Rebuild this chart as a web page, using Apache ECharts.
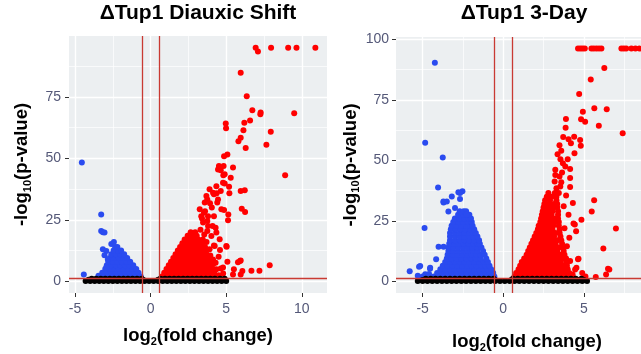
<!DOCTYPE html>
<html>
<head>
<meta charset="utf-8">
<script src="https://cdn.jsdelivr.net/npm/echarts@6.0.0/dist/echarts.min.js"></script>
<style>
  html, body { margin: 0; padding: 0; background: #fff; }
  #chart { width: 641px; height: 354px; }
</style>
</head>
<body>
<div id="chart"></div>
<script>
// volcano plots, ΔTup1 diauxic shift / 3-day
const lfcCut = 0.585;   // |log2 FC| threshold
const pCut = 1.3;       // -log10(0.05)

const xTicksLeft = [-5, 0, 5, 10];
const xMinorLeft = [-2.5, 2.5, 7.5];
const yTicksLeft = [0, 25, 50, 75];
const yMinorLeft = [12.5, 37.5, 62.5, 87.5];

const xTicksRight = [-5, 0, 5];
const xMinorRight = [-2.5, 2.5, 7.5];
const yTicksRight = [0, 25, 50, 75, 100];
const yMinorRight = [12.5, 37.5, 62.5, 87.5];

// dense parts of the clouds, one row per y level: [y, [x, x, ...]]
const leftBlackRows = [
  [0.15, [-4.3,-4.0,-3.7,-3.4,-3.1,-2.8,-2.5,-2.2,-1.9,-1.6,-1.3,-1.0,-0.7,-0.4,-0.1,0.2,0.5,0.8,1.1,1.4,1.7,2.0,2.3,2.6,2.9,3.2,3.5,3.8,4.1,4.4,4.7,5.0]],
  [0.6,  [-4.1,-3.8,-3.5,-3.2,-2.9,-2.6,-2.3,-2.0,-1.7,-1.4,-1.1,-0.8,-0.5,0.5,0.8,1.1,1.4,1.7,2.0,2.3,2.6,2.9,3.2,3.5,3.8,4.1,4.4,4.75]],
  [1.05, [-3.9,-3.6,-3.3,-3.0,-2.7,-2.4,-2.1,-1.8,-1.5,-1.2,-0.9,-0.6,0.65,0.95,1.25,1.55,1.85,2.15,2.45,2.75,3.05,3.35,3.65,3.95,4.25,4.6,4.9]]
];
const leftBlueRows = [
  [2,    [-3.3,-3.0,-2.7,-2.4,-2.1,-1.8,-1.5,-1.2,-0.9,-0.65]],
  [3.5,  [-3.2,-2.9,-2.6,-2.3,-2.0,-1.7,-1.4,-1.1,-0.8]],
  [5,    [-3.0,-2.7,-2.4,-2.1,-1.8,-1.5,-1.2,-0.95]],
  [6.5,  [-2.9,-2.6,-2.3,-2.0,-1.7,-1.4,-1.15]],
  [8,    [-2.8,-2.5,-2.2,-1.9,-1.6,-1.35]],
  [9.5,  [-2.7,-2.4,-2.1,-1.8,-1.55]],
  [11,   [-2.6,-2.3,-2.0,-1.75]],
  [12.5, [-2.45,-2.15,-1.95]],
  [14,   [-2.35,-2.2]]
];
const leftBlueSpots = [
  [-4.55,48.3],[-3.27,27.2],[-3.27,20.5],[-3.16,20.0],[-3.05,19.8],[-2.43,16.0],[-2.6,15.2],
  [-3.16,13.0],[-2.93,12.3],[-3.05,10.6],[-2.83,8.9],[-2.93,5.6],[-4.42,2.8],[-3.45,2.3]
];
const leftRedRows = [
  [2,    [0.75,1.05,1.35,1.65,1.95,2.25,2.55,2.85,3.15,3.45,3.75,4.05,4.35]],
  [3.5,  [0.9,1.2,1.5,1.8,2.1,2.4,2.7,3.0,3.3,3.6,3.9,4.2]],
  [5,    [1.05,1.35,1.65,1.95,2.25,2.55,2.85,3.15,3.45,3.75,4.0]],
  [6.5,  [1.2,1.5,1.8,2.1,2.4,2.7,3.0,3.3,3.6,3.9]],
  [8,    [1.35,1.65,1.95,2.25,2.55,2.85,3.15,3.45,3.75]],
  [9.5,  [1.5,1.8,2.1,2.4,2.7,3.0,3.3,3.6,3.8]],
  [11,   [1.65,1.95,2.25,2.55,2.85,3.15,3.45,3.7]],
  [12.5, [1.8,2.1,2.4,2.7,3.0,3.3,3.6]],
  [14,   [1.95,2.25,2.55,2.85,3.15,3.45,3.6]],
  [15.5, [2.1,2.4,2.7,3.0,3.3,3.4]],
  [17,   [2.25,2.55,2.85,3.15]],
  [18.5, [2.45,2.75,3.05]],
  [20,   [2.65,2.95]]
];
const leftRedSpots = [
  [6.95,95],[7.1,93.4],[7.97,95],[9.1,95],[9.65,95],[10.9,95],
  [5.96,84.8],[6.36,75.3],[6.73,69.6],[7.28,68.6],[7.26,67.9],[9.5,68.3],[6.58,65.4],[6.2,64.5],
  [4.97,64.2],[4.99,62.2],[6.14,61.4],[7.95,60.8],[5.96,58.4],[5.81,57],[7.66,55.5],[6.29,54.2],
  [5.08,51.6],[4.86,50.9],[5.45,46.3],[4.52,46.9],[4.64,45.2],[4.81,43.1],[5.3,42.1],[8.9,43.1],
  [4.9,39.8],[5.19,38.5],[4.37,35.8],[4.64,36.7],[4.19,35.4],[5.21,35.8],[5.96,36.7],[6.23,37],
  [3.75,33.3],[3.93,31.7],[4.41,32],[6.03,29.5],[6.25,28.2],[4.86,29],[5.14,27.2],[5.12,24.8],
  [3.53,27.9],[4.19,26.5],[4.3,21.8],[3.75,24.5],[5.03,14.1],[4.59,12.7],[4.19,14.6],
  [5.96,8.5],[5.78,7.8],[5.08,8],[7.88,6.5],[7.2,4.3],[6.67,4.3],[6.07,4.2],[5.96,2.8],[5.45,2.8],
  [4.64,5.2],[4.19,4.6],[3.25,29.3],[3.35,26.5],[3.47,23.9],[3.58,32],[3.69,34.7],[3.9,37.4],
  [4.13,36],[4.35,38.7],[4.46,33.3],[4.68,29.3],[4.79,40.1],[4.9,43.5],[4.83,46.9],[4.46,45.5],
  [3.8,22.5],[4.02,18.4],[4.35,19.8],[4.57,17.1],[3.9,13],[4.24,14.4],[5.01,14.4],[4.13,8.9],
  [4.79,5.6],[4.35,4.9],[4.13,6.9],[5.51,4.9],[5.92,8.3],[3.3,21],[3.55,19],[3.7,16],[3.95,10.5],
  [4.5,10],[4.0,3.0],[3.4,25.5],[3.6,28.5],[3.8,26.5],[4.05,30],[3.45,17],[3.75,20.5],[4.1,22.5],
  [3.6,12.5],[3.85,8],[4.3,7.5],[3.7,5.5],[4.5,2.5],[4.8,3.2]
];

const rightBlackRows = [
  [0.15, [-5.3,-5.0,-4.7,-4.4,-4.1,-3.8,-3.5,-3.2,-2.9,-2.6,-2.3,-2.0,-1.7,-1.4,-1.1,-0.8,-0.5,-0.2,0.1,0.4,0.7,1.0,1.3,1.6,1.9,2.2,2.5,2.8,3.1,3.4,3.7,4.0,4.3,4.6,4.9,5.2]],
  [0.6,  [-5.0,-4.7,-4.4,-4.1,-3.8,-3.5,-3.2,-2.9,-2.6,-2.3,-2.0,-1.7,-1.4,-1.1,-0.8,-0.5,0.5,0.8,1.1,1.4,1.7,2.0,2.3,2.6,2.9,3.2,3.5,3.8,4.1,4.4,4.7,5.0]],
  [1.05, [-4.8,-4.5,-4.2,-3.9,-3.6,-3.3,-3.0,-2.7,-2.4,-2.1,-1.8,-1.5,-1.2,-0.9,-0.6,0.6,0.9,1.2,1.5,1.8,2.1,2.4,2.7,3.0,3.3,3.6,3.9,4.2,4.5,4.85]]
];
const rightBlueRows = [
  [2,    [-4.3,-4.0,-3.7,-3.4,-3.1,-2.8,-2.5,-2.2,-1.9,-1.6,-1.3,-1.0,-0.75,-0.55]],
  [3.5,  [-4.1,-3.8,-3.5,-3.2,-2.9,-2.6,-2.3,-2.0,-1.7,-1.4,-1.1,-0.85,-0.62]],
  [5,    [-3.9,-3.6,-3.3,-3.0,-2.7,-2.4,-2.1,-1.8,-1.5,-1.2,-0.95,-0.75]],
  [6.5,  [-3.75,-3.45,-3.15,-2.85,-2.55,-2.25,-1.95,-1.65,-1.35,-1.1,-0.85]],
  [8,    [-3.6,-3.3,-3.0,-2.7,-2.4,-2.1,-1.8,-1.5,-1.2,-0.95]],
  [9.5,  [-3.5,-3.2,-2.9,-2.6,-2.3,-2.0,-1.7,-1.4,-1.05]],
  [11,   [-3.45,-3.15,-2.85,-2.55,-2.25,-1.95,-1.65,-1.4,-1.15]],
  [12.5, [-3.4,-3.1,-2.8,-2.5,-2.2,-1.9,-1.6,-1.25]],
  [14,   [-3.4,-3.1,-2.8,-2.5,-2.2,-1.9,-1.6,-1.35]],
  [15.5, [-3.35,-3.05,-2.75,-2.45,-2.15,-1.85,-1.6,-1.45]],
  [17,   [-3.3,-3.0,-2.7,-2.4,-2.1,-1.8,-1.5]],
  [18.5, [-3.3,-3.0,-2.7,-2.4,-2.1,-1.85,-1.6]],
  [20,   [-3.3,-3.0,-2.7,-2.4,-2.1,-1.85,-1.7]],
  [21.5, [-3.25,-2.95,-2.65,-2.35,-2.05,-1.8]],
  [23,   [-3.2,-2.9,-2.6,-2.3,-2.05,-1.9]],
  [24.5, [-3.1,-2.8,-2.5,-2.2,-1.95]],
  [26,   [-3.0,-2.7,-2.4,-2.15,-2.0]],
  [27.5, [-2.8,-2.5,-2.25,-2.1]],
  [29,   [-2.7,-2.45,-2.3]]
];
const rightBlueSpots = [
  [-4.24,90.4],[-4.84,57.3],[-3.75,51.2],[-4.04,38.8],[-2.78,36.8],[-2.53,37.2],[-3.19,35.1],
  [-3.7,32.6],[-3.5,33],[-2.68,34],[-4.88,22.1],[-4.01,14.3],[-3.7,14.3],[-4.16,9.1],[-4.53,5.6],
  [-5.15,6.3],[-5.8,4.2],[-4.84,2.9],[-3.4,28.9],[-2.99,30.3],[-2.27,27.6],[-5.3,2.3],[-5.0,2.0],
  [-4.6,3.0],[-2.68,36.5],[-3.71,33],[-4.54,5.2],[-5.22,6.0]
];
const rightRedRows = [
  [2,    [0.7,1.0,1.3,1.6,1.9,2.2,2.5,2.8,3.1,3.4,3.7,4.0,4.3]],
  [3.5,  [0.8,1.1,1.4,1.7,2.0,2.3,2.6,2.9,3.2,3.5,3.8,4.1]],
  [5,    [0.95,1.25,1.55,1.85,2.15,2.45,2.75,3.05,3.35,3.65,4.0]],
  [6.5,  [1.05,1.35,1.65,1.95,2.25,2.55,2.85,3.15,3.45,3.75,3.95]],
  [8,    [1.15,1.45,1.75,2.05,2.35,2.65,2.95,3.25,3.55,3.9]],
  [9.5,  [1.3,1.6,1.9,2.2,2.5,2.8,3.1,3.4,3.7,3.9]],
  [11,   [1.45,1.75,2.05,2.35,2.65,2.95,3.25,3.55,3.8]],
  [12.5, [1.55,1.85,2.15,2.45,2.75,3.05,3.35,3.75]],
  [14,   [1.65,1.95,2.25,2.55,2.85,3.15,3.45,3.7]],
  [15.5, [1.75,2.05,2.35,2.65,2.95,3.25,3.65]],
  [17,   [1.85,2.15,2.45,2.75,3.05,3.35,3.6]],
  [18.5, [1.95,2.25,2.55,2.85,3.15,3.55]],
  [20,   [2.05,2.35,2.65,2.95,3.25,3.5]],
  [21.5, [2.15,2.45,2.75,3.05,3.5]],
  [23,   [2.2,2.5,2.8,3.1,3.45]],
  [24.5, [2.3,2.6,2.9,3.2,3.45]],
  [26,   [2.35,2.65,2.95,3.25,3.4]],
  [27.5, [2.4,2.7,3.0,3.4]],
  [29,   [2.45,2.75,3.05,3.4]],
  [30.5, [2.5,2.8,3.1,3.35]],
  [32,   [2.55,2.85,3.15,3.35]],
  [33.5, [2.6,2.9,3.3]],
  [35,   [2.7,3.0,3.3]],
  [36.5, [2.8,3.2]]
];
const rightRedSpots = [
  [4.64,96.2],[4.78,96.2],[4.92,96.2],[5.06,96.2],[5.47,96.2],[5.62,96.2],[5.78,96.2],[5.94,96.2],
  [6.09,96.2],[7.33,96.2],[7.48,96.2],[7.63,96.2],[7.95,96.2],[8.2,96.2],[8.45,96.2],[8.75,96.2],[9.05,96.2],
  [6.27,88.2],[5.43,83.4],[4.71,77.4],[4.94,70.1],[5.65,71.5],[6.42,71.1],[4.83,67],[5.08,66],
  [5.93,64.3],[7.41,61.2],[3.89,67.1],[3.87,63.5],[3.72,59.7],[4.4,59.8],[4.05,58.7],[4.77,58.4],
  [4.2,57.1],[3.49,56.3],[4.81,56],[4.42,53],[3.37,52.5],[3.7,48.8],[3.85,47.5],[3.23,46.1],
  [4.15,46.4],[3.23,44],[3.49,43.3],[4.15,42.7],[3.19,41.3],[3.54,39.2],[4.15,39],[5.64,33.5],
  [4.32,32.4],[5.49,28.9],[6.99,21.8],[4.85,25.5],[4.36,23.9],[4.52,20.7],[6.21,13.6],[4.67,9.3],
  [4.15,8.4],[6.58,4.9],[6.38,2.8],[5.74,1.8],[3.74,4.5],[4.46,4.9],[3.95,7.7],[4.44,23.5],
  [4.64,9.1],[6.5,5.2],[4.54,5.6],[3.95,14.5],[4.1,18],[3.8,22],[4.05,27.5],[3.75,31],[3.9,35.5],
  [3.6,41],[3.45,36.5],[3.3,38.5],[3.65,45],[4.0,50.5],[3.55,50.5],[3.6,54],[4.3,2.8],[4.9,3.5],[5.1,2.0]
];

function rowsToPoints(rows) {
  const out = [];
  rows.forEach(function (r) {
    r[1].forEach(function (x) { out.push([x, r[0]]); });
  });
  return out;
}

const fontFamily = 'Liberation Sans, Arial, sans-serif';
const tickColor = '#545878';
const nameRich = {
  a: { fontSize: 18.5, fontWeight: 'bold', color: '#000', fontFamily: fontFamily, lineHeight: 22 },
  s: { fontSize: 11, fontWeight: 'bold', color: '#000', fontFamily: fontFamily, lineHeight: 11, verticalAlign: 'bottom' }
};

// markLine has its own z, so pass it explicitly (grid below points, cut-offs above)
function guideLines(idx, xs, ys, color, width, z) {
  return {
    type: 'scatter', xAxisIndex: idx, yAxisIndex: idx, data: [], z: z, silent: true,
    markLine: {
      z: z, silent: true, symbol: ['none', 'none'], label: { show: false }, animation: false,
      lineStyle: { color: color, width: width, type: 'solid' },
      emphasis: { disabled: true },
      data: xs.map(function (v) { return { xAxis: v }; }).concat(ys.map(function (v) { return { yAxis: v }; }))
    }
  };
}

function points(idx, data, color) {
  return {
    type: 'scatter', xAxisIndex: idx, yAxisIndex: idx, data: data,
    symbolSize: 6, itemStyle: { color: color, opacity: 1 }, z: 3, silent: true
  };
}

function xAxisFor(idx, min, max, ticks, nameGap) {
  return {
    type: 'value', gridIndex: idx, min: min, max: max,
    name: '{a|log}{s|2}{a|(fold change)}', nameLocation: 'middle', nameGap: nameGap,
    nameTextStyle: { rich: nameRich },
    axisLine: { show: false, onZero: false },
    axisTick: { show: true, length: 4, customValues: ticks, lineStyle: { color: '#333', width: 1 } },
    axisLabel: { customValues: ticks, color: tickColor, fontSize: 14, margin: 9, fontFamily: fontFamily },
    splitLine: { show: false }
  };
}

function yAxisFor(idx, min, max, ticks, nameGap, margin) {
  return {
    type: 'value', gridIndex: idx, min: min, max: max,
    name: '{a|-log}{s|10}{a|(p-value)}', nameLocation: 'middle', nameGap: nameGap,
    nameTextStyle: { rich: nameRich },
    axisLine: { show: false, onZero: false },
    axisTick: { show: true, length: 4, customValues: ticks, lineStyle: { color: '#333', width: 1 } },
    axisLabel: { customValues: ticks, color: tickColor, fontSize: 14, margin: margin, fontFamily: fontFamily },
    splitLine: { show: false }
  };
}

const titleStyle = { fontSize: 21, fontWeight: 'bold', fontFamily: fontFamily, color: '#000' };
const panelBg = '#eceff1';
const red = '#ff0000', blue = '#2a4bf0', black = '#000000', cutColor = '#c93a33';

const chart = echarts.init(document.getElementById('chart'));
chart.setOption({
  animation: false,
  backgroundColor: '#ffffff',
  title: [
    { text: 'ΔTup1 Diauxic Shift', left: 198, top: 3, textAlign: 'center', padding: 0, textStyle: titleStyle },
    { text: 'ΔTup1 3-Day', left: 524, top: 3, textAlign: 'center', padding: 0, textStyle: titleStyle }
  ],
  grid: [
    { left: 69, top: 36, width: 258, height: 257, show: true, backgroundColor: panelBg, borderWidth: 0, outerBoundsMode: 'none' },
    { left: 396, top: 37, width: 262, height: 256, show: true, backgroundColor: panelBg, borderWidth: 0, outerBoundsMode: 'none' }
  ],
  xAxis: [
    xAxisFor(0, -5.4, 11.67, xTicksLeft, 32),
    xAxisFor(1, -6.65, 9.6, xTicksRight, 38)
  ],
  yAxis: [
    yAxisFor(0, -4.75, 99.75, yTicksLeft, 36, 8),
    yAxisFor(1, -4.81, 101, yTicksRight, 31, 7)
  ],
  series: [
    guideLines(0, xMinorLeft, yMinorLeft, '#ffffff', 0.7, 1),
    guideLines(0, xTicksLeft, yTicksLeft, '#ffffff', 1.4, 1),
    points(0, rowsToPoints(leftBlueRows).concat(leftBlueSpots), blue),
    points(0, rowsToPoints(leftRedRows).concat(leftRedSpots), red),
    points(0, rowsToPoints(leftBlackRows), black),
    guideLines(0, [-lfcCut, lfcCut], [pCut], cutColor, 1.3, 6),

    guideLines(1, xMinorRight, yMinorRight, '#ffffff', 0.7, 1),
    guideLines(1, xTicksRight, yTicksRight, '#ffffff', 1.4, 1),
    points(1, rowsToPoints(rightBlueRows).concat(rightBlueSpots), blue),
    points(1, rowsToPoints(rightRedRows).concat(rightRedSpots), red),
    points(1, rowsToPoints(rightBlackRows), black),
    guideLines(1, [-lfcCut, lfcCut], [pCut], cutColor, 1.3, 6)
  ]
});
</script>
</body>
</html>
